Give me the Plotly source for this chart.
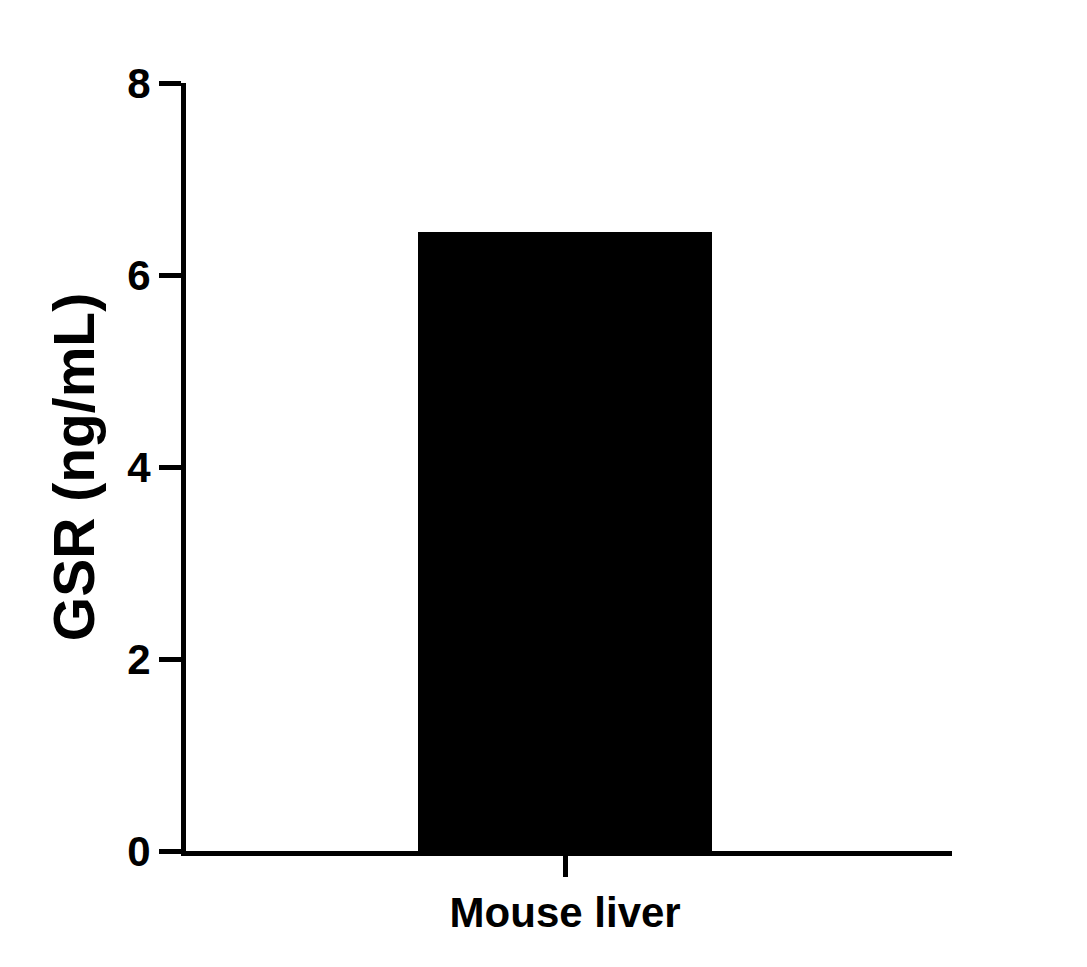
import plotly.graph_objects as go

categories = ["Mouse liver"]
gsr_values = [6.45]
y_tick_vals = [0, 2, 4, 6, 8]
y_tick_text = ["0", "2", "4", "6", "8"]

FONT = "Liberation Sans, Arial, sans-serif"

fig = go.Figure()
fig.add_trace(go.Bar(
    x=categories,
    y=gsr_values,
    width=0.384,
    marker=dict(color="black", line=dict(width=0)),
    showlegend=False,
))

fig.update_layout(
    width=1087,
    height=967,
    margin=dict(l=178, r=143, t=75, b=124, autoexpand=False),
    paper_bgcolor="white",
    plot_bgcolor="white",
    font=dict(family=FONT, color="black", size=42, weight="bold"),
    bargap=0,
)

fig.update_xaxes(
    type="category",
    range=[-0.495, 0.505],
    showline=True,
    linewidth=5,
    linecolor="black",
    ticks="outside",
    ticklen=21,
    tickwidth=5,
    tickcolor="black",
    tickfont=dict(family=FONT, size=42, color="black", weight="bold"),
    showgrid=False,
    zeroline=False,
    automargin=False,
)

fig.update_yaxes(
    range=[0, 8],
    tickvals=y_tick_vals,
    ticktext=y_tick_text,
    showline=True,
    linewidth=5,
    linecolor="black",
    ticks="outside",
    ticklen=22,
    tickwidth=5,
    tickcolor="black",
    tickfont=dict(family=FONT, size=42, color="black", weight="bold"),
    showgrid=False,
    zeroline=False,
    automargin=False,
    title=dict(text="GSR (ng/mL)", font=dict(family=FONT, size=57, color="black", weight="bold"), standoff=16),
)

fig.write_html("out.html")
